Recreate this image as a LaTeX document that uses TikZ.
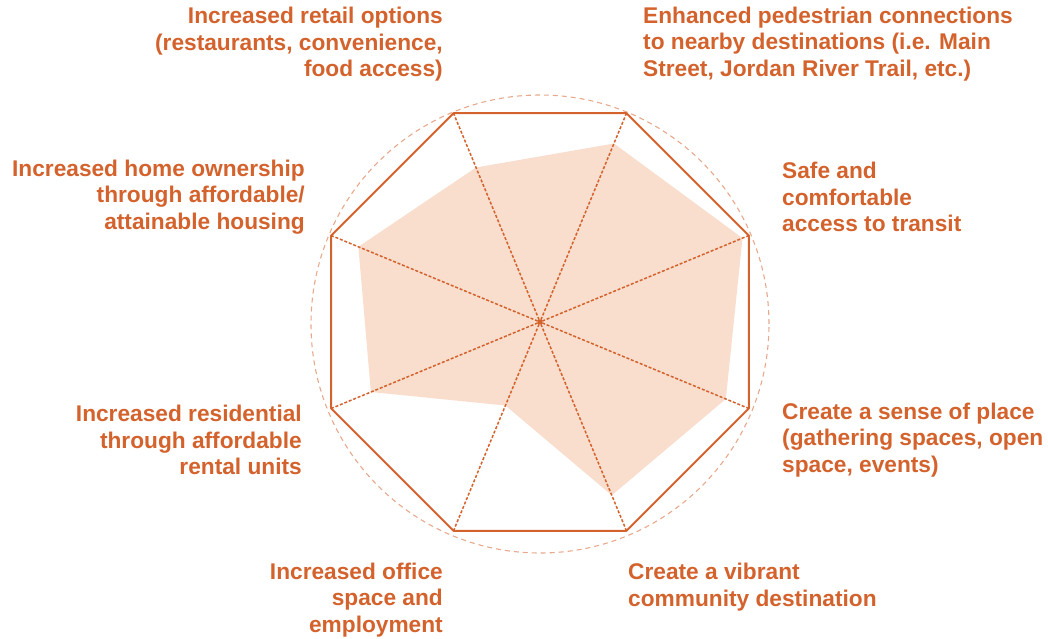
\documentclass[tikz,border=0pt]{standalone}
\usepackage{fontspec}
\setmainfont{Liberation Sans}
\usepackage{tikz}
\definecolor{rust}{RGB}{212,98,44}
\definecolor{peach}{RGB}{249,222,206}
\definecolor{ring}{RGB}{232,168,140}
\newcommand{\rad}{226}

\begin{document}
\begin{tikzpicture}[x=1pt,y=1pt,
	goal/.style={text=rust,font=\bfseries\fontsize{22.7}{26.5}\selectfont,inner sep=0pt},
	spoke/.style={rust,dash pattern=on 3pt off 1.8pt,line width=1.5pt}]
	\useasboundingbox (-540,322) rectangle (508,-316);
	
	\foreach \i/\f in {1/0.97,2/0.855,3/0.74,4/0.87,5/0.81,6/0.40,7/0.83,8/0.89}
	{
		\coordinate (s\i) at ({45*\i-22.5}:{\f*\rad});
		\coordinate (v\i) at ({45*\i-22.5}:\rad);
	}
	\fill[peach] (s1) -- (s2) -- (s3) -- (s4) -- (s5) -- (s6) -- (s7) -- (s8) -- cycle;
	
	\draw[ring,dash pattern=on 5pt off 4pt,line width=1.1pt] (0,-2) circle (229);
	\draw[rust,line width=2pt,line join=round] (v1) -- (v2) -- (v3) -- (v4) -- (v5) -- (v6) -- (v7) -- (v8) -- cycle;
	
	\node[fill=rust,inner sep=0pt,minimum size=4pt] at (0,0) (c) {};
	\foreach \i in {1,...,8}
		\draw[spoke] (c) -- (v\i);
	
	\node[goal,anchor=east,align=right] at (-97,277.5) (retail) {Increased retail options\\(restaurants, convenience,\\food access)};
	\node[goal,anchor=west,align=left] at (103,278) (walk) {Enhanced pedestrian connections\\to nearby destinations (i.e. Main\\Street, Jordan River Trail, etc.)};
	\node[goal,anchor=east,align=right] at (-235,125) (own) {Increased home ownership\\through affordable/\\attainable housing};
	\node[goal,anchor=west,align=left] at (242,125) (transit) {Safe and\\comfortable\\access to transit};
	\node[goal,anchor=east,align=right] at (-238,-118) (rent) {Increased residential\\through affordable\\rental units};
	\node[goal,anchor=west,align=left] at (242,-118) (place) {Create a sense of place\\(gathering spaces, open\\space, events)};
	\node[goal,anchor=east,align=right] at (-97,-278) (office) {Increased office\\space and\\employment};
	\node[goal,anchor=west,align=left] at (88,-265) (vibrant) {Create a vibrant\\community destination};
\end{tikzpicture}
\end{document}
